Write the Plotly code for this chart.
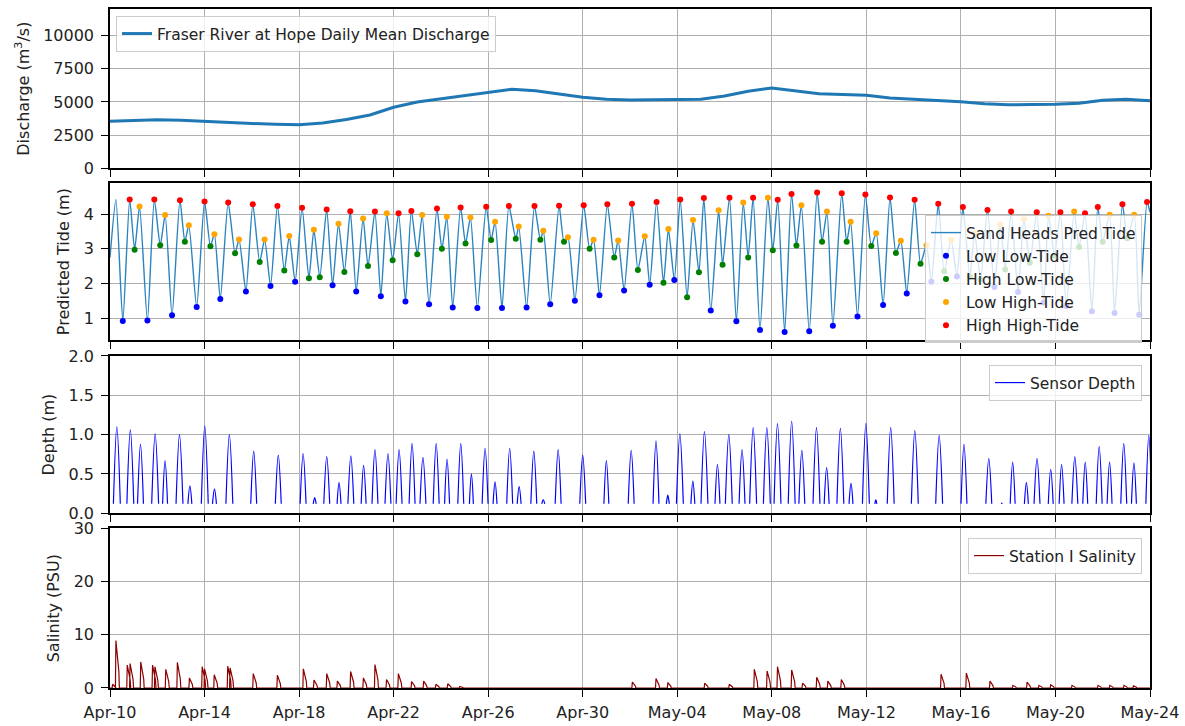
import pandas as pd
import plotly.graph_objects as go

START = pd.Timestamp("2019-04-10")
END = pd.Timestamp("2019-05-24")

# ---------------- Discharge (daily means, Apr-10 .. May-24) ----------------
discharge_dates = pd.date_range("2019-04-10", "2019-05-24", freq="D")
discharge = [3550, 3620, 3650, 3620, 3520, 3430, 3370, 3320, 3280, 3420, 3680,
             4020, 4600, 5000, 5250, 5450, 5750, 5950, 5850, 5600, 5350,
             5200, 5150, 5160, 5180, 5200, 5450, 5800, 6050, 5850, 5620, 5560,
             5500, 5300, 5200, 5130, 5020, 4870, 4790, 4800, 4820, 4900, 5120,
             5200, 5080]

# ---------------- Predicted tide extremes (hours after Apr-10 00:00) ----------------
tide_hours = [0, 6, 13, 20, 25, 30, 38, 45, 51, 56, 63, 71, 76, 80, 88, 96, 102, 106,
              112, 120, 127, 131, 138, 145, 152, 157, 163, 170, 177, 182, 188, 195,
              202, 207, 213, 220, 226, 232, 238, 244, 250, 257, 262, 269, 275, 281,
              287, 293, 300, 306, 312, 317, 324, 332, 337, 342, 348, 356, 361, 366,
              373, 382, 387, 391, 398, 405, 412, 415, 423, 431, 437, 440, 447, 456,
              461, 465, 472, 481, 487, 491, 497, 505, 512, 516, 522, 530, 536, 543,
              548, 555, 562, 567, 573, 579, 586, 592, 598, 603, 610, 618, 622, 629,
              636, 643, 648, 653, 660, 668, 673, 678, 685, 692, 697, 702, 710, 718,
              723, 728, 734, 743, 748, 752, 759, 767, 773, 778, 785, 792, 798, 803,
              809, 817, 823, 829, 834, 841, 847, 854, 860, 866, 873, 878, 884, 891,
              898, 904, 909, 915, 922, 928, 934, 941, 948, 953, 959, 965, 971, 979,
              984, 990, 997, 1003, 1008, 1015, 1020, 1028, 1033, 1040, 1045, 1053, 1056]
tide_level = [2.75, 4.42, 0.92, 4.42, 2.97, 4.22, 0.93, 4.42, 3.10, 3.97, 1.08, 4.40,
              3.20, 3.68, 1.32, 4.36, 3.07, 3.42, 1.55, 4.33, 2.87, 3.27, 1.77, 4.28,
              2.62, 3.27, 1.93, 4.23, 2.37, 3.37, 2.05, 4.18, 2.15, 3.55, 2.18, 4.13,
              1.95, 3.72, 2.33, 4.08, 1.77, 3.87, 2.50, 4.07, 1.63, 4.02, 2.67, 4.02,
              1.48, 4.09, 2.84, 3.97, 1.40, 4.16, 3.00, 3.92, 1.31, 4.19, 3.15, 3.90,
              1.29, 4.21, 3.25, 3.78, 1.29, 4.23, 3.29, 3.64, 1.31, 4.23, 3.26, 3.52,
              1.40, 4.24, 3.20, 3.33, 1.50, 4.25, 3.00, 3.26, 1.66, 4.28, 2.75, 3.24,
              1.80, 4.30, 2.39, 3.36, 1.96, 4.35, 2.02, 3.57, 2.10, 4.42, 1.60, 3.83,
              2.32, 4.46, 1.22, 4.11, 2.54, 4.47, 0.91, 4.33, 2.75, 4.47, 0.66, 4.47,
              2.96, 4.41, 0.60, 4.58, 3.09, 4.25, 0.62, 4.62, 3.20, 4.07, 0.78, 4.60,
              3.20, 3.78, 1.05, 4.56, 3.08, 3.45, 1.38, 4.48, 2.88, 3.23, 1.71, 4.41,
              2.57, 3.10, 2.05, 4.30, 2.35, 3.25, 2.20, 4.20, 2.20, 3.45, 2.12, 4.12,
              1.90, 3.70, 2.40, 4.07, 1.75, 3.85, 2.60, 4.05, 1.45, 3.95, 2.80, 4.05,
              1.35, 4.07, 3.05, 4.02, 1.20, 4.20, 3.20, 3.98, 1.15, 4.28, 3.30, 3.98,
              1.10, 4.35, 4.05]
# n = unclassified, L = low low, g = high low, o = low high, r = high high
tide_kind = list("nnLrgoLrgoLrgoLrgoLrgoLrgoLrgoLrgogrLogrLogrLogrLrgoLrgoLrgoLrgoLrgo"
                 "LrgoLrgoLrgoLrgoLrgoLrgoLrgogrLogrLogrLogrLrgoLrgoLrgoLrgoLrgoLrgoLr"
                 "goLrgogrLogrLogrLogrLogrLrgoLrgoLrn")

# ---------------- Sensor depth: wet periods (peak day, peak depth, duration h) ----------------
depth_peak_day = [0.29, 0.86, 1.29, 1.91, 2.33, 2.94, 3.38, 4.01, 4.42, 5.05, 6.08, 7.12,
                  8.17, 8.66, 9.17, 9.69, 10.19, 10.73, 11.21, 11.76, 12.23, 12.78, 13.24,
                  13.80, 14.26, 14.84, 15.29, 15.87, 16.29, 16.91, 17.31, 17.93, 18.33,
                  18.96, 20.00, 21.00, 22.05, 23.10, 23.60, 24.11, 24.66, 25.15, 25.70,
                  26.18, 26.74, 27.21, 27.79, 28.24, 28.84, 29.27, 29.89, 30.32, 30.90,
                  31.35, 31.98, 32.40, 33.03, 34.05, 35.08, 36.13, 37.18, 37.73, 38.19,
                  38.77, 39.22, 39.80, 40.26, 40.82, 41.26, 41.85, 42.29, 42.89, 43.32, 43.95]
depth_peak = [1.10, 1.06, 0.88, 1.01, 0.67, 1.00, 0.35, 1.11, 0.31, 1.00, 0.79, 0.74,
              0.76, 0.20, 0.72, 0.39, 0.73, 0.61, 0.81, 0.76, 0.81, 0.89, 0.71, 0.89,
              0.69, 0.89, 0.50, 0.83, 0.40, 0.83, 0.34, 0.79, 0.17, 0.81, 0.74, 0.67,
              0.80, 0.92, 0.23, 1.01, 0.41, 1.04, 0.62, 1.00, 0.81, 1.09, 1.09, 1.14,
              1.17, 0.80, 1.09, 0.58, 1.08, 0.38, 1.14, 0.17, 1.09, 1.05, 0.99, 0.88,
              0.70, 0.13, 0.65, 0.39, 0.70, 0.56, 0.62, 0.72, 0.65, 0.85, 0.65, 0.89,
              0.64, 0.99]
depth_dur_h = [7, 7, 6, 7, 5, 7, 4, 7, 4, 7, 6, 6, 6, 3, 6, 4, 6, 5, 6, 6, 6, 6, 6, 6,
               5, 6, 4, 6, 4, 6, 4, 6, 3, 6, 6, 5, 6, 6, 3, 7, 4, 7, 5, 7, 6, 7, 7, 7,
               7, 6, 7, 5, 7, 4, 7, 2, 7, 7, 7, 6, 6, 1, 5, 4, 6, 5, 5, 6, 5, 6, 5, 6,
               5, 6]
DEPTH_BASE = 0.12

# ---------------- Salinity spikes (peak day, peak PSU) ----------------
sal_peak_day = [0.11, 0.25, 0.73, 0.85, 1.30, 1.80, 1.90, 2.36, 2.85, 3.36, 3.90, 4.00,
                4.41, 4.98, 5.08, 6.06, 7.08, 8.18, 8.63, 9.17, 9.62, 10.18, 10.72, 11.21,
                11.70, 12.20, 12.76, 13.27, 13.79, 14.29, 14.80, 22.10, 23.10, 23.60,
                25.16, 26.20, 27.26, 27.80, 28.24, 28.84, 29.30, 29.90, 30.37, 30.94,
                35.16, 36.23, 37.23, 38.20, 38.80, 39.30, 39.80, 40.70, 41.80, 42.30,
                42.90, 43.30]
sal_peak = [0.7, 8.9, 4.3, 4.6, 4.9, 4.3, 4.0, 3.5, 4.8, 1.9, 4.0, 3.6, 2.5, 4.1, 3.8,
            2.7, 2.4, 3.6, 1.5, 2.7, 1.3, 3.1, 1.9, 4.4, 1.6, 2.7, 1.2, 1.3, 0.7, 0.8,
            0.3, 1.1, 1.8, 1.0, 0.9, 0.7, 3.5, 3.2, 4.0, 3.4, 0.9, 2.0, 1.3, 1.6, 2.6,
            2.8, 1.3, 0.5, 1.1, 0.5, 0.6, 0.5, 0.5, 0.5, 0.5, 0.4]
SAL_DUR_H = 3

# ---------------- build line coordinates from the data ----------------
tide_t = [START + pd.Timedelta(hours=h) for h in tide_hours]

depth_x, depth_y = [], []
for d, p, w in zip(depth_peak_day, depth_peak, depth_dur_h):
    c = START + pd.Timedelta(days=d)
    half = pd.Timedelta(hours=w / 2)
    depth_x += [c - half, c, c + half, None]
    depth_y += [DEPTH_BASE, p, DEPTH_BASE, None]

sal_x, sal_y = [START], [0.0]
for d, p in zip(sal_peak_day, sal_peak):
    c = START + pd.Timedelta(days=d)
    sal_x += [c - pd.Timedelta(hours=0.5), c, c + pd.Timedelta(hours=SAL_DUR_H),
              c + pd.Timedelta(hours=SAL_DUR_H + 0.5)]
    sal_y += [0.0, p, p * 0.35, 0.0]
sal_x.append(END)
sal_y.append(0.0)

FONT = "DejaVu Sans"
FS = 16
LFS = 15.5
TXT = "#222222"

fig = go.Figure()

fig.add_trace(go.Scatter(x=discharge_dates, y=discharge, mode="lines",
                         line=dict(color="#1f77b4", width=3),
                         name="Fraser River at Hope Daily Mean Discharge",
                         xaxis="x", yaxis="y", legend="legend"))

fig.add_trace(go.Scatter(x=tide_t, y=tide_level, mode="lines",
                         line=dict(color="#2a84c0", width=1.4, shape="spline", smoothing=0.6),
                         name="Sand Heads Pred Tide",
                         xaxis="x2", yaxis="y2", legend="legend2"))

kinds = [("L", "Low Low-Tide", "blue"), ("g", "High Low-Tide", "green"),
         ("o", "Low High-Tide", "orange"), ("r", "High High-Tide", "red")]
for k, nm, col in kinds:
    xs = [t for t, kk in zip(tide_t, tide_kind) if kk == k]
    ys = [v for v, kk in zip(tide_level, tide_kind) if kk == k]
    fig.add_trace(go.Scatter(x=xs, y=ys, mode="markers",
                             marker=dict(color=col, size=6),
                             name=nm, xaxis="x2", yaxis="y2", legend="legend2"))

fig.add_trace(go.Scatter(x=depth_x, y=depth_y, mode="lines", connectgaps=False,
                         line=dict(color="blue", width=1.2, shape="spline", smoothing=1.0),
                         name="Sensor Depth", xaxis="x3", yaxis="y3", legend="legend3"))

fig.add_trace(go.Scatter(x=sal_x, y=sal_y, mode="lines",
                         line=dict(color="#8b0000", width=1.2),
                         name="Station I Salinity", xaxis="x4", yaxis="y4", legend="legend4"))

domains = [[0.7654, 1.0], [0.5125, 0.7433], [0.2573, 0.4890], [0.0, 0.2352]]
ytitles = ["Discharge (m<sup>3</sup>/s)", "Predicted Tide (m)", "Depth (m)", "Salinity (PSU)"]
yranges = [[0, 12000], [0.37, 4.886], [0, 2.0], [0, 30]]
ytickvals = [[0, 2500, 5000, 7500, 10000], [1, 2, 3, 4], [0, 0.5, 1.0, 1.5, 2.0], [0, 10, 20, 30]]
ytickfmt = ["d", "d", ".1f", "d"]

axis_common = dict(showline=True, mirror=True, linecolor="black", linewidth=1.5,
                   showgrid=True, gridcolor="#b0b0b0", gridwidth=1,
                   ticks="outside", ticklen=7, tickwidth=1.2, tickcolor="black",
                   tickfont=dict(family=FONT, size=FS, color=TXT),
                   zeroline=False, automargin=False)

layout = dict(template="none", width=1185, height=726,
              margin=dict(l=110, r=35, t=9, b=38, pad=0),
              paper_bgcolor="white", plot_bgcolor="white", showlegend=True,
              font=dict(family=FONT, size=FS, color=TXT))

for i in range(4):
    sfx = "" if i == 0 else str(i + 1)
    layout["xaxis" + sfx] = dict(axis_common, domain=[0, 1], anchor="y" + sfx,
                                 type="date", range=[START, END],
                                 tick0=START, dtick=4 * 86400000, tickformat="%b-%d",
                                 showticklabels=(i == 3), ticklabelstandoff=2,
                                 **({} if i == 0 else {"matches": "x"}))
    layout["yaxis" + sfx] = dict(axis_common, domain=domains[i], anchor="x" + sfx,
                                 range=yranges[i], tickvals=ytickvals[i],
                                 tickformat=ytickfmt[i], ticklabelstandoff=4,
                                 title=dict(text=ytitles[i], standoff=10,
                                            font=dict(family=FONT, size=FS, color=TXT)))

leg_common = dict(bgcolor="rgba(255,255,255,0.8)", bordercolor="#cccccc", borderwidth=1,
                  itemwidth=30, font=dict(family=FONT, size=LFS, color=TXT))
layout["legend"] = dict(leg_common, x=0.0058, y=0.9897, xanchor="left", yanchor="top")
layout["legend2"] = dict(leg_common, x=0.9923, y=0.6966, xanchor="right", yanchor="top")
layout["legend3"] = dict(leg_common, x=0.9923, y=0.4757, xanchor="right", yanchor="top")
layout["legend4"] = dict(leg_common, x=0.9923, y=0.2209, xanchor="right", yanchor="top")

fig.update_layout(**layout)
fig.write_html("out.html")
